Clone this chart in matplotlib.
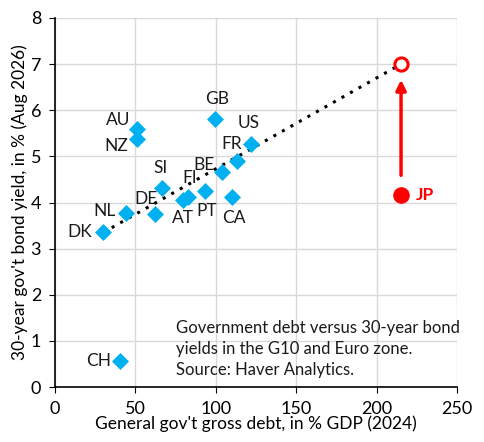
import matplotlib
matplotlib.use('Agg')
import matplotlib.pyplot as plt

plt.rcParams['font.family'] = ['Lato', 'DejaVu Sans']

# --- data ---
codes = ['DK', 'NL', 'DE', 'SI', 'AT', 'FI', 'PT', 'BE', 'FR', 'US',
         'CA', 'GB', 'AU', 'NZ', 'CH']
debt = [30.0, 44.2, 62.4, 66.7, 79.4, 82.5, 93.3, 104.0, 113.4, 121.9,
        110.3, 99.7, 50.8, 51.2, 40.4]
yld = [3.37, 3.78, 3.75, 4.31, 4.06, 4.13, 4.25, 4.66, 4.89, 5.27,
       4.11, 5.81, 5.60, 5.37, 0.57]
# label offsets (pixels) from each point
label_dx = [-23, -22, -9, -2, 0, 2, 2, -18, -6, -2, 2, 2, -19, -21, -21]
label_dy = [0, 2, 15, 20, -18, 19, -20, 7, 17, 21, -21, 20, 9, -7, 0]

jp_debt = 215.2
jp_yield = 4.16
jp_implied = 7.0
trend_x = [30.0, 215.2]
trend_y = [3.35, 7.0]

fig = plt.figure(figsize=(4.85, 4.42), dpi=100)
ax = fig.add_axes([0.1134, 0.1244, 0.8289, 0.8349])

ax.plot(trend_x, trend_y, color='black', linestyle=(0, (1, 2.2)), lw=2.2,
        zorder=2)
ax.scatter(debt, yld, marker='D', s=75, color='#00B0F0', zorder=3,
           linewidths=0)
for c, x, y, dx, dy in zip(codes, debt, yld, label_dx, label_dy):
    ax.annotate(c, (x, y), xytext=(dx, dy), textcoords='offset pixels',
                ha='center', va='center', fontsize=12.5, color='#1a1a1a')

ax.scatter([jp_debt], [jp_yield], s=120, color='#FF0000', zorder=3)
ax.scatter([jp_debt], [jp_implied], s=90, facecolors='white',
           edgecolors='#FF0000', linewidths=2.2, zorder=4)
ax.annotate('', xy=(jp_debt, 6.72), xytext=(jp_debt, 4.53),
            arrowprops=dict(arrowstyle='-|>,head_length=0.6,head_width=0.3',
                            color='#FF0000', lw=2.5))
ax.annotate('JP', (jp_debt, jp_yield), xytext=(15, 0),
            textcoords='offset pixels', ha='left', va='center',
            fontsize=12.5, fontweight='bold', color='#FF0000')

ax.text(75, 1.45, 'Government debt versus 30-year bond\n'
        'yields in the G10 and Euro zone.\nSource: Haver Analytics.',
        fontsize=12, va='top', ha='left', linespacing=1.38, color='#1a1a1a')

ax.set_xlim(0, 250)
ax.set_ylim(0, 8)
ax.set_xticks(range(0, 251, 50))
ax.set_yticks(range(0, 9))
ax.grid(True, color='#d9d9d9', lw=1)
ax.set_axisbelow(True)
for s in ['top', 'right']:
    ax.spines[s].set_visible(False)
for s in ['left', 'bottom']:
    ax.spines[s].set_color('black')
    ax.spines[s].set_linewidth(1.2)
ax.tick_params(labelsize=13, length=4, colors='black', pad=6)
ax.set_xlabel("General gov't gross debt, in % GDP (2024)", fontsize=12.5,
              labelpad=-1)
ax.set_ylabel("30-year gov't bond yield, in % (Aug 2026)", fontsize=12.5,
              labelpad=2)

fig.savefig('out.png', dpi=100)
